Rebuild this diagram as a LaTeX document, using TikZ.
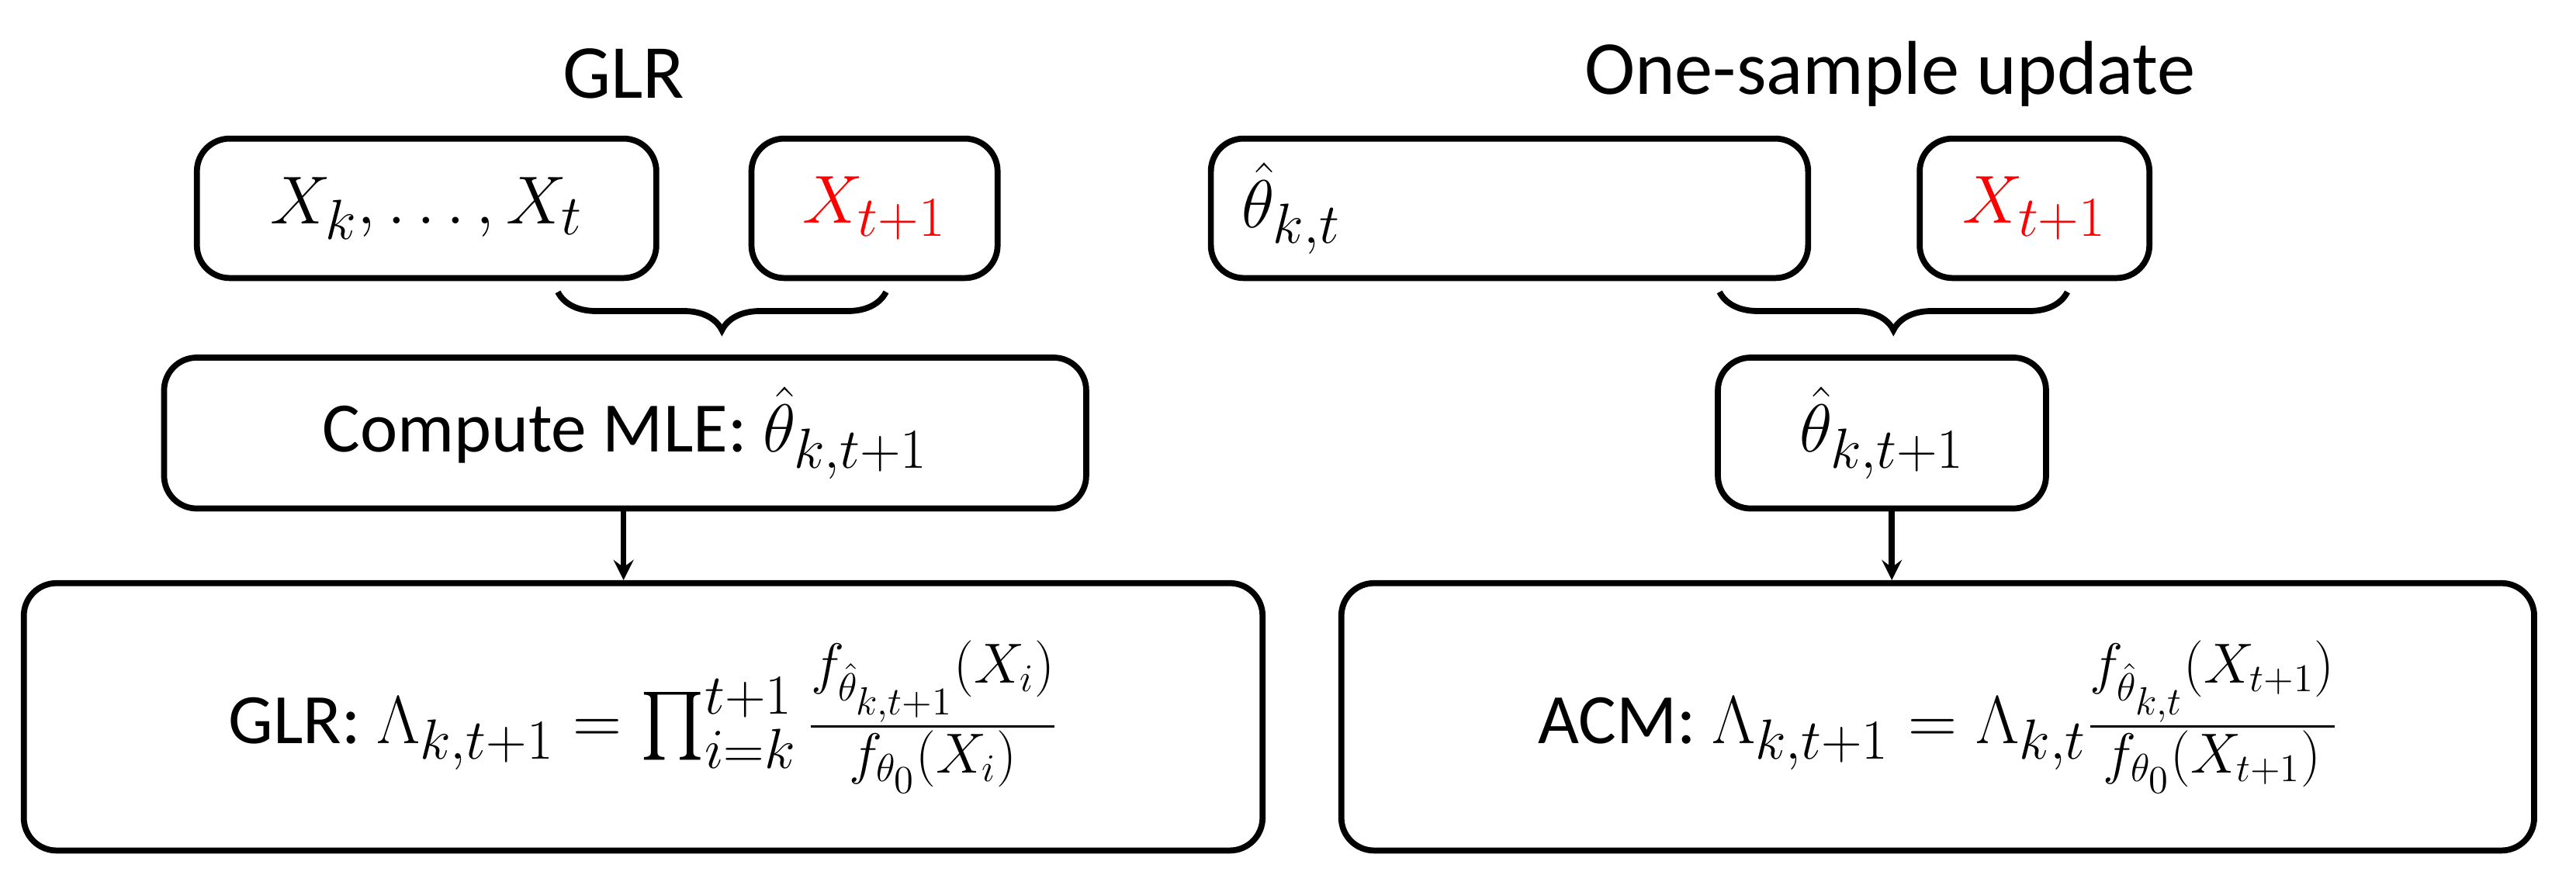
\documentclass[tikz,border=0pt]{standalone}
\usepackage{amsmath}
\usepackage{fontspec}
\setmainfont{Carlito}
\usetikzlibrary{positioning,decorations.pathreplacing}
\tikzset{
  box/.style={draw,line width=2.2pt,rounded corners=12pt,inner sep=0pt},
  title/.style={font=\fontsize{28}{32}\selectfont},
  txt/.style={font=\fontsize{26}{30}\selectfont},
  brc/.style={decoration={brace,mirror,amplitude=14pt},decorate,line width=2.2pt},
  arr/.style={line width=2.2pt,->,>=stealth},
}
\newcommand{\thhat}{\hat{\theta}}
\begin{document}
\begin{tikzpicture}[x=0.02115cm,y=-0.02115cm]
  \useasboundingbox (0,0) rectangle (1570,533);
%   left: GLR
    \node[title] (tl) at (380,45) {GLR};
    \node[box,minimum width=280*0.02115cm,minimum height=85*0.02115cm,txt] (xa) at (260,127) {\fontsize{32}{36}\selectfont$X_k,\ldots,X_t$};
    \node[box,minimum width=150*0.02115cm,minimum height=85*0.02115cm,txt] (xb) at (533,127) {\fontsize{32}{36}\selectfont\color{red}$X_{t+1}$};
    \coordinate (ba) at (340,178);
    \coordinate (bb) at (540,178);
    \draw[brc] (ba) -- (bb);
    \node[box,minimum width=562*0.02115cm,minimum height=92*0.02115cm,txt] (mle) at (381,264) {Compute MLE: \fontsize{30}{34}\selectfont$\thhat_{k,t+1}$};
    \node[box,minimum width=755*0.02115cm,minimum height=163*0.02115cm,txt] (glr) at (392,437) {GLR: \fontsize{30}{34}\selectfont$\Lambda_{k,t+1}=\prod_{i=k}^{t+1}\frac{f_{\thhat_{k,t+1}}(X_i)}{f_{\theta_0}(X_i)}$};
    \draw[arr] (mle.south -| 380,0) -- (glr.north -| 380,0);
%   right: one-sample update
    \node[title] (tr) at (1152,45) {One-sample update};
    \node[box,minimum width=364*0.02115cm,minimum height=85*0.02115cm,txt] (tha) at (920,127) {\fontsize{32}{36}\selectfont$\thhat_{k,t}$\hspace*{5em}};
    \node[box,minimum width=140*0.02115cm,minimum height=85*0.02115cm,txt] (xc) at (1240,127) {\fontsize{32}{36}\selectfont\color{red}$X_{t+1}$};
    \coordinate (bc) at (1048,178);
    \coordinate (bd) at (1260,178);
    \draw[brc] (bc) -- (bd);
    \node[box,minimum width=200*0.02115cm,minimum height=92*0.02115cm,txt] (thb) at (1147,264) {\fontsize{30}{34}\selectfont$\thhat_{k,t+1}$};
    \node[box,minimum width=727*0.02115cm,minimum height=163*0.02115cm,txt] (acm) at (1181,437) {ACM: \fontsize{30}{34}\selectfont$\Lambda_{k,t+1}=\Lambda_{k,t}\frac{f_{\thhat_{k,t}}(X_{t+1})}{f_{\theta_0}(X_{t+1})}$};
    \draw[arr] (thb.south -| 1153,0) -- (acm.north -| 1153,0);
\end{tikzpicture}
\end{document}
